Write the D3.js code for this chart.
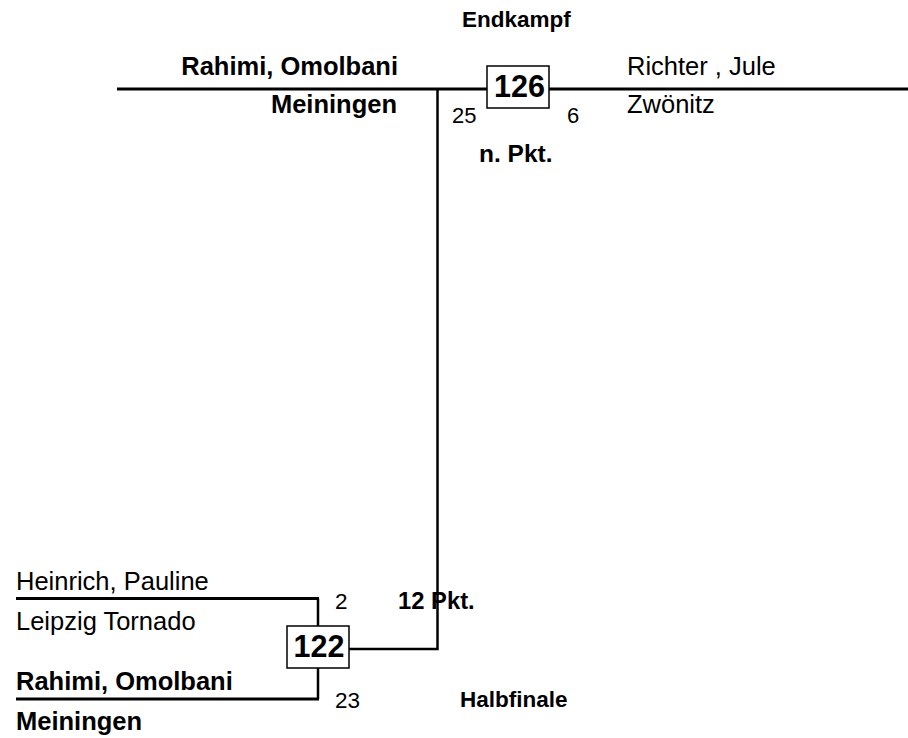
<!DOCTYPE html>
<html>
<head>
<meta charset="utf-8">
<script src="https://cdn.jsdelivr.net/npm/d3@7"></script>
<style>
  html, body { margin: 0; padding: 0; background: #fff; }
  svg { display: block; font-family: "Liberation Sans", Arial, Helvetica, sans-serif; }
</style>
</head>
<body>
<svg id="chart" width="908" height="738"></svg>
<script>
// ---- data ----
const roundLabels = ["Halbfinale", "Endkampf"];
const matchNumbers = [122, 126];
const matchResults = ["12 Pkt.", "n. Pkt."];
const semiPlayers = ["Heinrich, Pauline", "Rahimi, Omolbani"];
const semiClubs = ["Leipzig Tornado", "Meiningen"];
const semiScores = [2, 23];
const semiWinner = [false, true];
const finalPlayers = ["Rahimi, Omolbani", "Richter , Jule"];
const finalClubs = ["Meiningen", "Zwönitz"];
const finalScores = [25, 6];
const finalWinner = [true, false];

// ---- layout scales ----
const svg = d3.select("#chart");
const W = 908, H = 738;
// y scale in "slot" units: 0 = final line, 1 = semi top line, 2 = semi bottom line
const y = d3.scaleLinear().domain([0, 1, 2]).range([89, 598.5, 699]);
const x = d3.scaleLinear().domain([0, 1]).range([16, 908]);

const ink = "#000";
const nameSize = 25.5;

// ---- semifinal ----
const semiLineEnd = 318;
const box1 = {x: 287, y: 626, w: 62, h: 42};
const colX = 437.5;

semiPlayers.forEach((p, i) => {
  const ly = y(i + 1);
  svg.append("line").attr("x1", x(0)).attr("x2", semiLineEnd + 1)
    .attr("y1", ly).attr("y2", ly).attr("stroke", ink).attr("stroke-width", 3);
  const vy = i === 0 ? box1.y : box1.y + box1.h;
  svg.append("line").attr("x1", semiLineEnd).attr("x2", semiLineEnd)
    .attr("y1", ly).attr("y2", vy).attr("stroke", ink).attr("stroke-width", 2.5);
  svg.append("text").attr("x", x(0)).attr("y", ly - 9)
    .attr("font-size", nameSize).attr("font-weight", semiWinner[i] ? "bold" : "normal")
    .text(p);
  svg.append("text").attr("x", x(0)).attr("y", ly + 31)
    .attr("font-size", nameSize).attr("font-weight", semiWinner[i] ? "bold" : "normal")
    .text(semiClubs[i]);
  svg.append("text").attr("x", 335).attr("y", ly + 10 - (i === 1 ? 1 : 0))
    .attr("font-size", 22.5).text(semiScores[i]);
});

const connY = box1.y + 23;
svg.append("path")
  .attr("d", `M${box1.x + box1.w},${connY}H${colX}V${y(0)}`)
  .attr("fill", "none").attr("stroke", ink).attr("stroke-width", 2.5);

svg.append("rect").attr("x", box1.x).attr("y", box1.y).attr("width", box1.w).attr("height", box1.h)
  .attr("fill", "#fff").attr("stroke", ink).attr("stroke-width", 1.5);
svg.append("text").attr("x", box1.x + box1.w / 2 + 1).attr("y", box1.y + 31)
  .attr("text-anchor", "middle").attr("font-size", 30.5).attr("font-weight", "bold")
  .text(matchNumbers[0]);
svg.append("text").attr("x", 398).attr("y", 609)
  .attr("font-size", 23.8).attr("font-weight", "bold").text(matchResults[0]);
svg.append("text").attr("x", 460).attr("y", 707)
  .attr("font-size", 22.5).attr("font-weight", "bold").text(roundLabels[0]);

// ---- final ----
svg.append("line").attr("x1", 117).attr("x2", W).attr("y1", y(0)).attr("y2", y(0))
  .attr("stroke", ink).attr("stroke-width", 3);

const box2 = {x: 487, y: 66, w: 62, h: 42};
svg.append("rect").attr("x", box2.x).attr("y", box2.y).attr("width", box2.w).attr("height", box2.h)
  .attr("fill", "#fff").attr("stroke", ink).attr("stroke-width", 1.5);
svg.append("text").attr("x", box2.x + box2.w / 2 + 1.5).attr("y", box2.y + 31)
  .attr("text-anchor", "middle").attr("font-size", 30.5).attr("font-weight", "bold")
  .text(matchNumbers[1]);

svg.append("text").attr("x", 398).attr("y", y(0) - 14).attr("text-anchor", "end")
  .attr("font-size", nameSize).attr("font-weight", finalWinner[0] ? "bold" : "normal").text(finalPlayers[0]);
svg.append("text").attr("x", 397).attr("y", y(0) + 24).attr("text-anchor", "end")
  .attr("font-size", nameSize).attr("font-weight", finalWinner[0] ? "bold" : "normal").text(finalClubs[0]);
svg.append("text").attr("x", 627).attr("y", y(0) - 14)
  .attr("font-size", nameSize).attr("font-weight", finalWinner[1] ? "bold" : "normal").text(finalPlayers[1]);
svg.append("text").attr("x", 627).attr("y", y(0) + 24)
  .attr("font-size", nameSize).attr("font-weight", finalWinner[1] ? "bold" : "normal").text(finalClubs[1]);

svg.append("text").attr("x", 452).attr("y", 123).attr("font-size", 22).text(finalScores[0]);
svg.append("text").attr("x", 567).attr("y", 123).attr("font-size", 22).text(finalScores[1]);
svg.append("text").attr("x", 479).attr("y", 162).attr("font-size", 24.5).attr("font-weight", "bold")
  .text(matchResults[1]);
svg.append("text").attr("x", 462).attr("y", 27).attr("font-size", 22.5).attr("font-weight", "bold")
  .text(roundLabels[1]);
</script>
</body>
</html>
